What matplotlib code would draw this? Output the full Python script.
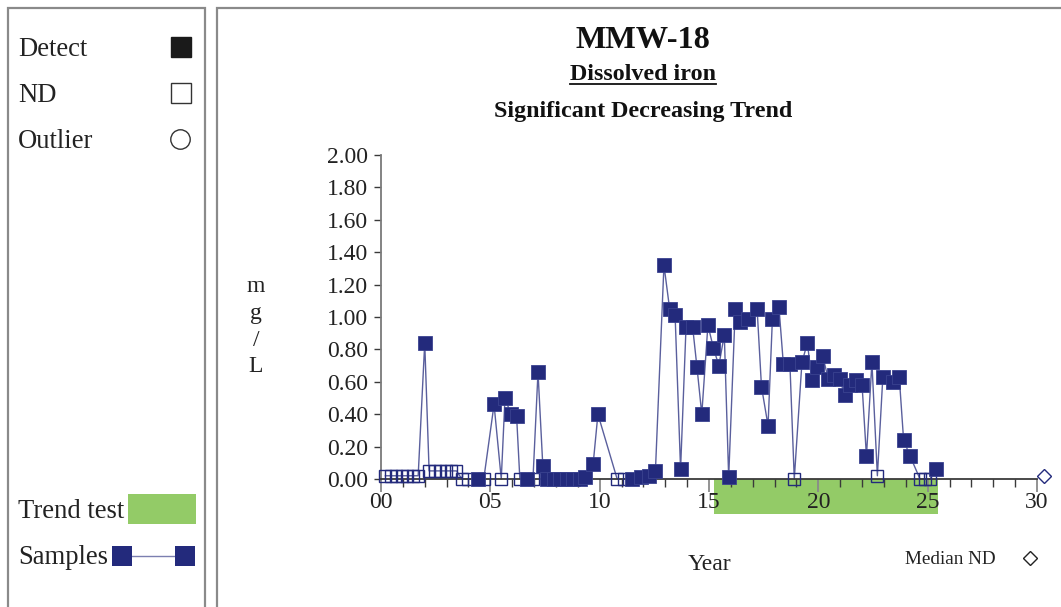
import matplotlib
matplotlib.use('Agg')
import matplotlib.pyplot as plt
from matplotlib.patches import Rectangle
from matplotlib.lines import Line2D
from matplotlib.ticker import MultipleLocator, FuncFormatter

plt.rcParams['font.family'] = ['Liberation Serif', 'DejaVu Serif']

# sample record: year since start, concentration (mg/L), non-detect flag
years = [0.2, 0.45, 0.7, 0.95, 1.2, 1.45, 1.7,
         2.0,
         2.2, 2.45, 2.7, 2.95, 3.2, 3.45,
         3.7, 4.0, 4.45, 4.7, 5.17, 5.5, 5.67, 5.94, 6.2, 6.35, 6.68, 6.95,
         7.18, 7.4, 7.6, 7.9, 8.2, 8.5, 8.8, 9.1, 9.35, 9.7, 9.92,
         10.8, 11.1, 11.5, 11.9, 12.25, 12.55, 12.94,
         13.2, 13.45, 13.7, 13.95, 14.25, 14.45, 14.67, 14.95, 15.2, 15.45,
         15.7, 15.9, 16.2, 16.4, 16.8, 17.2, 17.4, 17.7, 17.9, 18.2, 18.4,
         18.7, 18.9, 19.25, 19.5, 19.7, 19.95, 20.2, 20.45, 20.7, 20.97,
         21.2, 21.45, 21.7, 22.0, 22.2, 22.45, 22.7, 22.95, 23.4, 23.7,
         23.9, 24.2, 24.65, 24.9, 25.1, 25.4]
conc = [0.02, 0.02, 0.02, 0.02, 0.02, 0.02, 0.02,
        0.84,
        0.05, 0.05, 0.05, 0.05, 0.05, 0.05,
        0.0, 0.0, 0.0, 0.0, 0.46, 0.0, 0.50, 0.40, 0.39, 0.0, 0.0, 0.0,
        0.66, 0.08, 0.0, 0.0, 0.0, 0.0, 0.0, 0.0, 0.01, 0.09, 0.40,
        0.0, 0.0, 0.0, 0.01, 0.02, 0.05, 1.32,
        1.05, 1.01, 0.06, 0.94, 0.94, 0.69, 0.40, 0.95, 0.81, 0.70,
        0.89, 0.01, 1.05, 0.97, 0.99, 1.05, 0.57, 0.33, 0.99, 1.06, 0.71,
        0.71, 0.0, 0.72, 0.84, 0.61, 0.69, 0.76, 0.62, 0.64, 0.62,
        0.52, 0.58, 0.61, 0.58, 0.14, 0.72, 0.02, 0.63, 0.60, 0.63,
        0.24, 0.14, 0.0, 0.0, 0.0, 0.06]
nd = [1, 1, 1, 1, 1, 1, 1,
      0,
      1, 1, 1, 1, 1, 1,
      1, 1, 0, 1, 0, 1, 0, 0, 0, 1, 0, 1,
      0, 0, 0, 0, 0, 0, 0, 0, 0, 0, 0,
      1, 1, 0, 0, 0, 0, 0,
      0, 0, 0, 0, 0, 0, 0, 0, 0, 0,
      0, 0, 0, 0, 0, 0, 0, 0, 0, 0, 0,
      0, 1, 0, 0, 0, 0, 0, 0, 0, 0,
      0, 0, 0, 0, 0, 0, 1, 0, 0, 0,
      0, 0, 1, 1, 1, 0]

trend_start = 15.23
trend_end = 25.47
median_nd_year = 30.3
median_nd_value = 0.02

navy = '#232a7c'
green = '#93cb67'
txt = '#222222'

fig = plt.figure(figsize=(10.61, 6.07), dpi=100)
W, H = 1061.0, 607.0


def fx(px):
    return px / W


def fy(py):
    return 1 - py / H


# panel frames
fig.add_artist(Rectangle((fx(8), fy(640)), fx(205) - fx(8), fy(8) - fy(640),
                         fill=False, ec='#8a8a8a', lw=1.6, transform=fig.transFigure))
fig.add_artist(Rectangle((fx(217), fy(640)), fx(1100) - fx(217), fy(8) - fy(640),
                         fill=False, ec='#8a8a8a', lw=1.6, transform=fig.transFigure))

ax = fig.add_axes([fx(381), fy(479), fx(1037) - fx(381), fy(155) - fy(479)])
ax.set_xlim(0, 30)
ax.set_ylim(0, 2)

# trend test window below the axis
ax.add_patch(Rectangle((trend_start, -0.215), trend_end - trend_start, 0.215,
                       fc=green, ec='none', clip_on=False, zorder=0.5))

ax.plot(years, conc, color=navy, lw=1, alpha=0.75, clip_on=False, zorder=2)
dx = [x for x, f in zip(years, nd) if not f]
dy = [y for y, f in zip(conc, nd) if not f]
nx = [x for x, f in zip(years, nd) if f]
ny = [y for y, f in zip(conc, nd) if f]
ax.plot(nx, ny, 's', ms=8.5, mfc='none', mec=navy, mew=1, clip_on=False, zorder=3)
ax.plot(dx, dy, 's', ms=10, mfc=navy, mec='#3a4290', mew=0.6, clip_on=False, zorder=4)
ax.plot([median_nd_year], [median_nd_value], 'D', ms=7, mfc='none', mec=navy,
        mew=1, clip_on=False, zorder=4)

for s in ['top', 'right']:
    ax.spines[s].set_visible(False)
ax.spines['left'].set_color('#7a7a7a')
ax.spines['bottom'].set_color('#3a3a3a')
ax.spines['left'].set_linewidth(1.3)
ax.spines['bottom'].set_linewidth(1.3)

ax.yaxis.set_major_locator(MultipleLocator(0.2))
ax.yaxis.set_major_formatter(FuncFormatter(lambda v, p: '%.2f' % v))
ax.xaxis.set_major_locator(MultipleLocator(5))
ax.xaxis.set_minor_locator(MultipleLocator(1))
ax.xaxis.set_major_formatter(FuncFormatter(lambda v, p: '%02d' % int(round(v))))
ax.tick_params(axis='y', length=5, width=1, color='#3a3a3a', labelsize=17, pad=4)
ax.tick_params(axis='x', which='major', length=9, width=1.3, color='#8a8a8a',
               labelsize=17, pad=0)
ax.tick_params(axis='x', which='minor', length=6, width=1, color='#3a3a3a')
for lab in ax.get_xticklabels() + ax.get_yticklabels():
    lab.set_color(txt)

# titles
fig.text(fx(643), fy(40), 'MMW-18', ha='center', va='center', fontsize=23.3,
         fontweight='bold', color='#111111')
fig.text(fx(643), fy(75), 'Dissolved iron', ha='center', va='center', fontsize=17.3,
         fontweight='bold', color='#111111')
fig.add_artist(Line2D([fx(570), fx(716)], [fy(84), fy(84)], color='#111111', lw=1.3,
                      transform=fig.transFigure))
fig.text(fx(643), fy(112), 'Significant Decreasing Trend', ha='center', va='center',
         fontsize=17.3, fontweight='bold', color='#111111')

# vertical unit label
for i, ch in enumerate(['m', 'g', '/', 'L']):
    fig.text(fx(256), fy(287 + i * 26.5), ch, ha='center', va='center', fontsize=17,
             color=txt)

fig.text(fx(709), fy(565), 'Year', ha='center', va='center', fontsize=17, color=txt)
fig.text(fx(950), fy(560), 'Median ND', ha='center', va='center', fontsize=13.8,
         color=txt)
fig.add_artist(Line2D([fx(1030)], [fy(558)], marker='D', ms=7, mfc='none', mec='#222222',
                      mew=1, transform=fig.transFigure))

# left legend panel
fs = 19.2
fig.text(fx(18), fy(49), 'Detect', ha='left', va='center', fontsize=fs, color=txt)
fig.text(fx(18), fy(95), 'ND', ha='left', va='center', fontsize=fs, color=txt)
fig.text(fx(18), fy(141), 'Outlier', ha='left', va='center', fontsize=fs, color=txt)
fig.add_artist(Rectangle((fx(171), fy(57)), fx(20), 20 / H, fc='#1a1a1a', ec='#1a1a1a',
                         transform=fig.transFigure))
fig.add_artist(Rectangle((fx(171), fy(103)), fx(20), 20 / H, fc='white', ec='#333333',
                         lw=1, transform=fig.transFigure))
fig.add_artist(Line2D([fx(180)], [fy(139)], marker='o', ms=14, mfc='none', mec='#333333',
                      mew=1, transform=fig.transFigure))

fig.text(fx(18), fy(511), 'Trend test', ha='left', va='center', fontsize=fs, color=txt)
fig.add_artist(Rectangle((fx(128), fy(524)), fx(68), 30 / H, fc=green, ec='none',
                         transform=fig.transFigure))
fig.text(fx(18), fy(558), 'Samples', ha='left', va='center', fontsize=fs, color=txt)
fig.add_artist(Line2D([fx(122), fx(185)], [fy(556), fy(556)], color=navy, lw=1, alpha=0.6,
                      transform=fig.transFigure))
fig.add_artist(Rectangle((fx(112), fy(566)), fx(20), 20 / H, fc=navy, ec='none',
                         transform=fig.transFigure))
fig.add_artist(Rectangle((fx(175), fy(566)), fx(20), 20 / H, fc=navy, ec='none',
                         transform=fig.transFigure))

fig.savefig('out.png', dpi=100)
